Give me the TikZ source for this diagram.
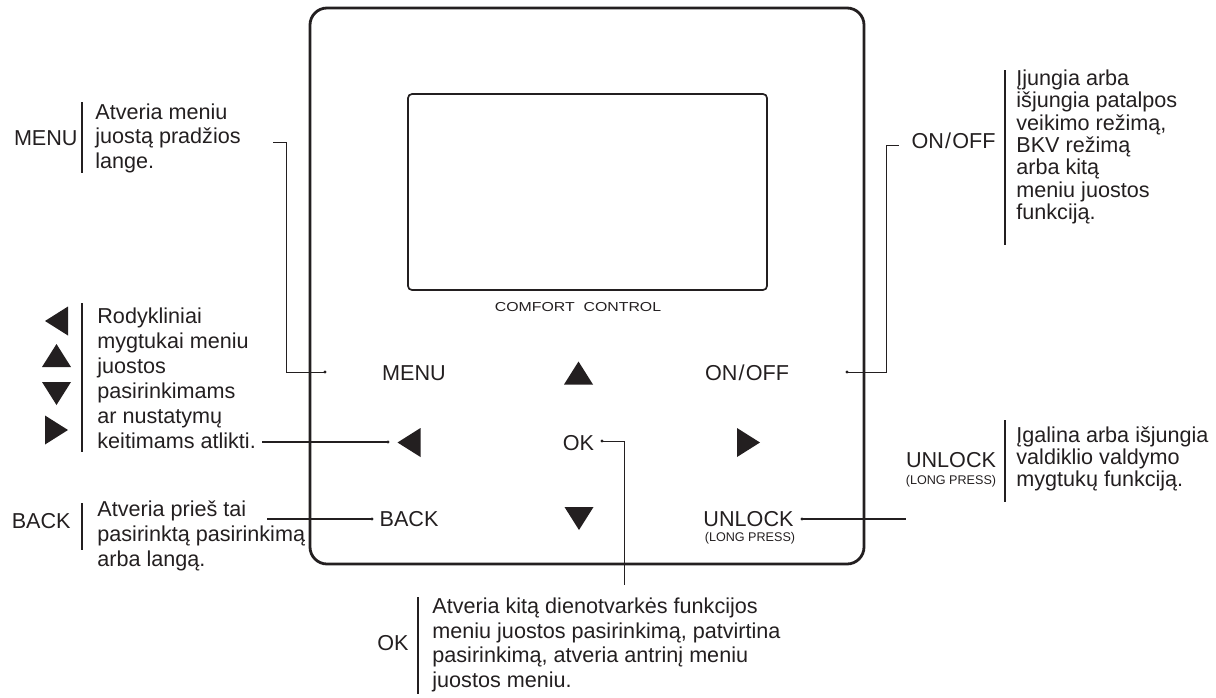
\documentclass[tikz,border=0pt]{standalone}
\usepackage{fontspec}
\usepackage{graphicx}
\setmainfont{Liberation Sans}
\usetikzlibrary{positioning}
\definecolor{ink}{HTML}{231F20}

\tikzset{
  lbl/.style={font=\fontsize{10.8}{12}\selectfont, text=ink, inner sep=0pt},
  small/.style={font=\fontsize{6.3}{7}\selectfont, text=ink, inner sep=0pt},
  desc/.style={lbl, align=left, anchor=west},
  keyname/.style={lbl, anchor=east},
  bar/.style={draw=ink, line width=1.2pt},
  lead/.style={draw=ink, line width=0.45pt},
  arrowkey/.pic={\fill[ink, line join=round] (-14.5,11.5) -- (14.5,11.5) -- (0,-11.5) -- cycle;}
}

\begin{document}
\begin{tikzpicture}[x=0.5pt, y=-0.5pt]
\useasboundingbox (0,0) rectangle (1216,697);

% panel and screen
\draw[ink, line width=1.4pt, rounded corners=8.5pt] (310,8) rectangle (864,564);
\draw[ink, line width=0.85pt, rounded corners=2pt] (408,94) rectangle (767,290);
\node[small, font=\fontsize{6.5}{7}\selectfont] (brand) at (578,307) {\scalebox{1.22}[1]{COMFORT\ \ CONTROL}};

% keys on the panel
\node[lbl] (bMenu) at (414,373) {MENU};
\node[lbl] (bOnOff) at (747,373) {ON\kern0.6pt/\kern0.6pt OFF};
\node[lbl] (bOk) at (578.5,443) {OK};
\node[lbl] (bBack) at (409,519) {BACK};
\node[lbl] (bUnlock) at (748.5,519) {UNLOCK};
\node[small] (bLong) at (750,538) {(LONG PRESS)};
\pic at (578.5,373) {arrowkey};
\pic[rotate=180] at (579,518.5) {arrowkey};
\pic[rotate=90] at (409,442.5) {arrowkey};
\pic[rotate=-90] at (748.5,442.5) {arrowkey};

% left column
\node[keyname] (kMenu) at (78,138) {MENU};
\draw[bar] (82,102) -- (82,173);
\node[desc, font=\fontsize{10.8}{12.25}\selectfont] (dMenu) at (95,138)
  {Atveria meniu\\juostą pradžios\\lange.};

\pic[rotate=90] at (56.5,321) {arrowkey};
\pic at (56.5,355.5) {arrowkey};
\pic[rotate=180] at (56.5,393.5) {arrowkey};
\pic[rotate=-90] at (56.5,430) {arrowkey};
\draw[bar] (82,303) -- (82,452);
\node[desc, font=\fontsize{10.8}{12.5}\selectfont] (dArrows) at (97,378.5)
  {Rodykliniai\\mygtukai meniu\\juostos\\pasirinkimams\\ar nustatymų\\keitimams atlikti.};

\node[keyname] (kBack) at (71,521) {BACK};
\draw[bar] (82,503) -- (82,550);
\node[desc, font=\fontsize{10.8}{12.5}\selectfont] (dBack) at (97,536)
  {Atveria prieš tai\\pasirinktą pasirinkimą\\arba langą.};

% bottom
\node[keyname] (kOk) at (409,643) {OK};
\draw[bar] (418,597) -- (418,694);
\node[desc, font=\fontsize{10.8}{12.35}\selectfont] (dOk) at (432,645)
  {Atveria kitą dienotvarkės funkcijos\\meniu juostos pasirinkimą, patvirtina\\pasirinkimą, atveria antrinį meniu\\juostos meniu.};

% right column
\node[keyname] (kOnOff) at (996,141) {ON\kern0.6pt/\kern0.6pt OFF};
\draw[bar] (1005,70) -- (1005,245);
\node[desc, font=\fontsize{10.8}{11.2}\selectfont] (dOnOff) at (1016,147)
  {Įjungia arba\\išjungia patalpos\\veikimo režimą,\\BKV režimą\\arba kitą\\meniu juostos\\funkciją.};

\node[lbl] (kUnlock) at (951,460) {UNLOCK};
\node[small] (kLong) at (951,481) {(LONG PRESS)};
\draw[bar] (1005,420) -- (1005,502);
\node[desc, font=\fontsize{10.8}{11}\selectfont] (dUnlock) at (1016,459)
  {Įgalina arba išjungia\\valdiklio valdymo\\mygtukų funkciją.};

% leader lines
\coordinate (menuTip) at (325,372);
\coordinate (menuBend) at (286,142);
\coordinate (menuEnd) at (273,142);
\coordinate (onTip) at (847,372);
\coordinate (onBend) at (886,145);
\coordinate (onEnd) at (899,145);
\coordinate (okTip) at (602,441);
\coordinate (okEnd) at (624,585);
\coordinate (leftTip) at (388,442);
\coordinate (leftEnd) at (262,442);
\coordinate (backTip) at (372,519);
\coordinate (backEnd) at (267,519);
\coordinate (unlockTip) at (802,519);
\coordinate (unlockEnd) at (906,519);

\draw[lead] (menuTip) -| (menuBend) -- (menuEnd);
\draw[lead] (onTip) -| (onBend) -- (onEnd);
\draw[lead] (okTip) -| (okEnd);
\draw[lead, line width=0.9pt] (leftEnd) -- (leftTip);
\draw[lead, line width=0.9pt] (backEnd) -- (backTip);
\draw[lead, line width=0.9pt] (unlockTip) -- (unlockEnd);
\foreach \t in {menuTip, onTip, okTip, leftTip, backTip, unlockTip}
  \fill[ink] (\t) circle (1.6);
\end{tikzpicture}
\end{document}
